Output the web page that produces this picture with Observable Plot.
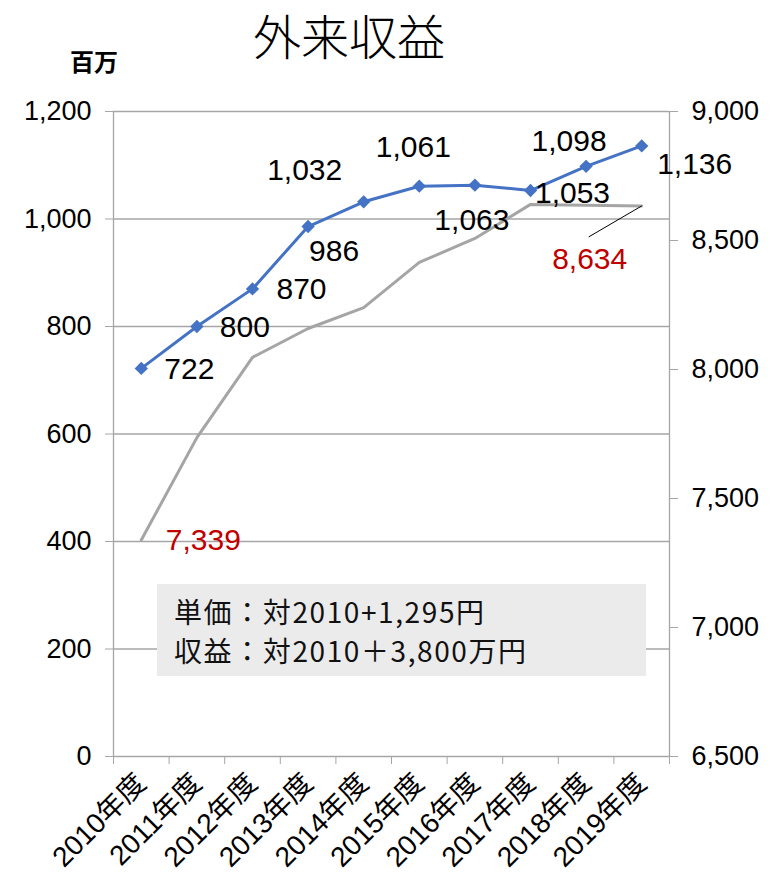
<!DOCTYPE html>
<html>
<head>
<meta charset="utf-8">
<script src="https://cdn.jsdelivr.net/npm/d3@7"></script>
<script src="https://cdn.jsdelivr.net/npm/@observablehq/plot@0.6"></script>
<style>
  html, body { margin: 0; padding: 0; background: #fff; }
  #wrap { position: relative; width: 773px; height: 877px; font-family: "Liberation Sans", "Noto Sans CJK JP", sans-serif; }
  #title { position: absolute; left: 0; width: 698px; top: -1px; text-align: center; font-family: "Noto Sans CJK JP", sans-serif; font-size: 48px; font-weight: 300; color: #000; }
  #unit { position: absolute; left: 70px; top: 43px; font-family: "Noto Sans CJK JP", sans-serif; font-size: 24px; font-weight: bold; color: #000; }
  #note { position: absolute; left: 157px; top: 584px; width: 489px; height: 92px; background: #ebebeb; font-family: "Noto Sans CJK JP", sans-serif; font-size: 28px; color: #111; box-sizing: border-box; padding: 8px 0 0 17px; white-space: nowrap; letter-spacing: 1.6px; }
  #note div { height: 39px; line-height: 39px; }
</style>
</head>
<body>
<div id="wrap">
  <div id="chart"></div>
  <div id="title">外来収益</div>
  <div id="unit">百万</div>
  <div id="note"></div>
</div>
<script>
const categories = ["2010年度","2011年度","2012年度","2013年度","2014年度","2015年度","2016年度","2017年度","2018年度","2019年度"];
const revenue = [722, 800, 870, 986, 1032, 1061, 1063, 1053, 1098, 1136];
const unitPrice = [7339, 7736, 8047, 8159, 8240, 8415, 8508, 8640, 8637, 8634];
const leftTicks = [0, 200, 400, 600, 800, 1000, 1200];
const rightTicks = [6500, 7000, 7500, 8000, 8500, 9000];
const noteLines = ["単価：対2010+1,295円", "収益：対2010＋3,800万円"];

const noteEl = document.getElementById("note");
noteLines.forEach(t => { const d = document.createElement("div"); d.textContent = t; noteEl.appendChild(d); });

const fmt = d3.format(",");
const rMin = 6500, rMax = 9000, lMax = 1200;
const toLeft = v => (v - rMin) / (rMax - rMin) * lMax;
const fromLeft = v => rMin + v / lMax * (rMax - rMin);

const data = categories.map((c, i) => ({i, cat: c, revenue: revenue[i], price: unitPrice[i]}));

// label offsets (pixels) for the revenue labels, per year
const revOffsets = [
  [48, 1], [48, 1], [49, 1], [26, 25], [-59, -31],
  [-6, -39], [-3, 35], [42, 3], [-17, -25], [53, 18]
];

const grid = "#a6a6a6";
const blue = "#4472c4";
const grayLine = "#a5a5a5";
const red = "#c00000";
const labelSize = 30;

const labelMarks = data.map((d, k) => Plot.text([d], {
  x: "i", y: "revenue", text: r => fmt(r.revenue),
  dx: revOffsets[k][0], dy: revOffsets[k][1],
  fontSize: labelSize, fill: "#000", textAnchor: "middle"
}));

const first = data[0], last = data[data.length - 1];
const pxPerX = (773 - 113 - 104) / 10;
const pxPerY = (877 - 111 - 121) / lMax;

const chart = Plot.plot({
  width: 773,
  height: 877,
  marginLeft: 113,
  marginRight: 104,
  marginTop: 111,
  marginBottom: 121,
  style: {fontFamily: "'Liberation Sans', 'Noto Sans CJK JP', sans-serif", fontSize: "27px", color: "#000", background: "transparent"},
  x: {type: "linear", domain: [-0.5, 9.5]},
  y: {domain: [0, lMax]},
  marks: [
    Plot.ruleY(leftTicks, {stroke: grid, strokeWidth: 1.3}),
    Plot.ruleX([-0.5, 9.5], {stroke: grid, strokeWidth: 1.3}),
    Plot.axisY(leftTicks, {anchor: "left", tickSize: 8, tickPadding: 14, tickFormat: fmt, stroke: grid, fill: "#000", fontSize: 27, label: null}),
    Plot.axisY(rightTicks.map(toLeft), {anchor: "right", tickSize: 8, tickPadding: 14, tickFormat: d => fmt(Math.round(fromLeft(d))), stroke: grid, fill: "#000", fontSize: 27, label: null}),
    Plot.axisX(d3.range(-0.5, 10, 1), {tickSize: 8, tickFormat: () => "", stroke: grid, label: null}),
    Plot.axisX(d3.range(0, 10), {tickSize: 0, tickPadding: 22, tickRotate: -45, tickFormat: i => categories[i], fill: "#000", fontSize: 28, label: null}),
    Plot.line(data, {x: "i", y: d => toLeft(d.price), stroke: grayLine, strokeWidth: 3}),
    Plot.line(data, {x: "i", y: "revenue", stroke: blue, strokeWidth: 3}),
    Plot.dot(data, {x: "i", y: "revenue", symbol: "diamond2", r: 6, fill: blue, stroke: null}),
    ...labelMarks,
    Plot.text([first], {x: "i", y: d => toLeft(d.price), text: d => fmt(d.price), dx: 62, dy: 0, fontSize: labelSize, fill: red}),
    Plot.link([last], {x1: "i", y1: d => toLeft(d.price), x2: d => d.i - 53 / pxPerX, y2: d => toLeft(d.price) - 31 / pxPerY, stroke: "#000", strokeWidth: 1}),
    Plot.text([last], {x: "i", y: d => toLeft(d.price), text: d => fmt(d.price), dx: -52, dy: 53, fontSize: labelSize, fill: red})
  ]
});
document.getElementById("chart").appendChild(chart);
</script>
</body>
</html>
